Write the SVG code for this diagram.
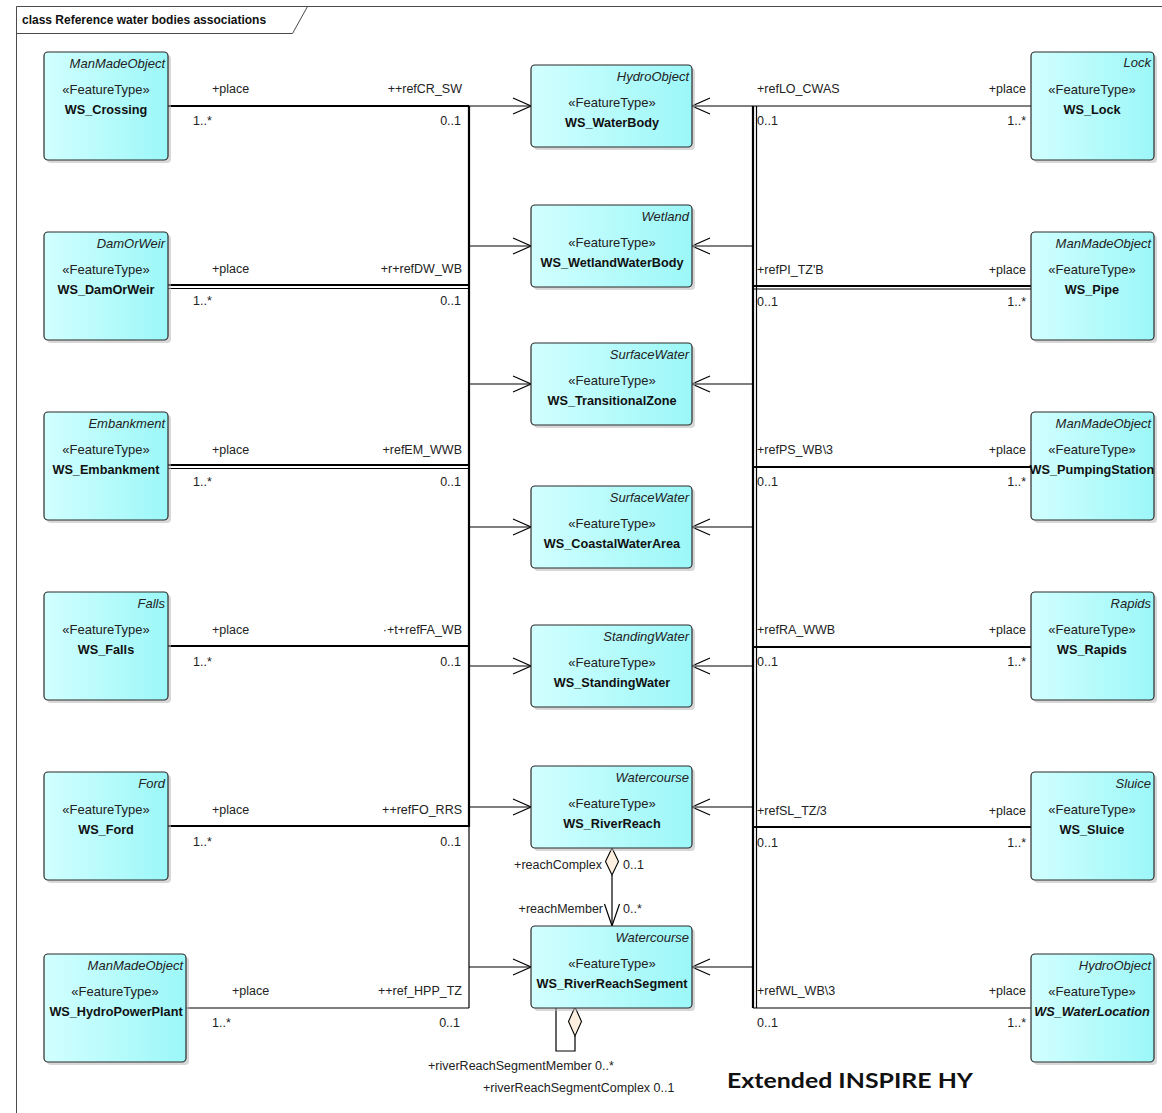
<svg xmlns="http://www.w3.org/2000/svg" width="1162" height="1113" viewBox="0 0 1162 1113">
  <defs>
    <linearGradient id="cyanFill" x1="0" y1="0" x2="1" y2="0">
      <stop offset="0" stop-color="#d2ffff"/>
      <stop offset="1" stop-color="#9cf7f8"/>
    </linearGradient>
    <marker id="openArrow" viewBox="0 0 20 18" refX="19" refY="9" markerWidth="20" markerHeight="18" markerUnits="userSpaceOnUse" orient="auto">
      <path d="M1,1 L19,9 L1,17" fill="none" stroke="#000" stroke-width="1.1"/>
    </marker>
    <style>
      .node rect.box { fill: url(#cyanFill); stroke: #2b2b2b; stroke-width: 1.2; }
      .node rect.shadow { fill: #b8b8b8; opacity: 0.55; }
      .parent { font-family: "Liberation Sans", Arial, sans-serif; font-size: 13px; font-style: italic; fill: #222; text-anchor: end; }
      .stereo { font-family: "Liberation Sans", Arial, sans-serif; font-size: 13px; fill: #222; text-anchor: middle; }
      .name { font-family: "Liberation Sans", Arial, sans-serif; font-size: 12.7px; font-weight: bold; fill: #111; text-anchor: middle; }
      .lbl { font-family: "Liberation Sans", Arial, sans-serif; font-size: 12.5px; fill: #222; }
      .end { text-anchor: end; }
      .wire { fill: none; stroke: #000; stroke-width: 1.2; }
      .heavy { fill: none; stroke: #000; stroke-width: 2.2; }
      .arrow { fill: none; stroke: #000; stroke-width: 1.2; marker-end: url(#openArrow); }
      .frameLine { fill: none; stroke: #4a4a4a; stroke-width: 1; }
    </style>
  </defs>

  <rect x="0" y="0" width="1162" height="1113" fill="#fff"/>

  <!-- diagram frame and its title tab -->
  <g id="frame">
    <path class="frameLine" d="M16.5,1113 L16.5,6.5 L1162,6.5"/>
    <path class="frameLine" d="M16.5,33.5 L292.5,33.5 L307.5,6.5"/>
    <text x="22" y="24" font-family="'Liberation Sans', Arial, sans-serif" font-size="12px" font-weight="bold" fill="#111">class Reference water bodies associations</text>
  </g>

  <!-- connectors -->
  <g id="connectors">
    <!-- left bus -->
    <path class="heavy" d="M469,106 L469,827"/>
    <path class="wire" d="M469,827 L469,1008"/>
    <!-- left feature lines into the bus -->
    <path class="heavy" d="M168,106 L469,106"/>
    <path class="heavy" d="M168,285 L469,285"/>
    <path class="wire" d="M168,288.5 L469,288.5"/>
    <path class="heavy" d="M168,465 L469,465"/>
    <path class="wire" d="M168,468.5 L469,468.5"/>
    <path class="heavy" d="M168,646 L469,646"/>
    <path class="heavy" d="M168,826 L469,826"/>
    <path class="wire" d="M186,1008 L469,1008"/>
    <!-- left bus to water bodies -->
    <path class="arrow" d="M469,106 L531,106"/>
    <path class="arrow" d="M469,246 L531,246"/>
    <path class="arrow" d="M469,384 L531,384"/>
    <path class="arrow" d="M469,527 L531,527"/>
    <path class="arrow" d="M469,666 L531,666"/>
    <path class="arrow" d="M469,807 L531,807"/>
    <path class="arrow" d="M469,967 L531,967"/>

    <!-- right bus (double) -->
    <path class="heavy" d="M753,106 L753,1008"/>
    <path class="wire" d="M756.5,106 L756.5,1008"/>
    <!-- right feature lines into the bus -->
    <path class="wire" d="M753,106 L1031,106"/>
    <path class="heavy" d="M753,286 L1031,286"/>
    <path class="wire" d="M753,289 L1031,289"/>
    <path class="heavy" d="M753,467 L1031,467"/>
    <path class="heavy" d="M753,647 L1031,647"/>
    <path class="heavy" d="M753,827 L1031,827"/>
    <path class="wire" d="M753,1008 L1031,1008"/>
    <!-- right bus to water bodies -->
    <path class="arrow" d="M753,106 L692,106"/>
    <path class="arrow" d="M753,246 L692,246"/>
    <path class="arrow" d="M753,384 L692,384"/>
    <path class="arrow" d="M753,527 L692,527"/>
    <path class="arrow" d="M753,666 L692,666"/>
    <path class="arrow" d="M753,807 L692,807"/>
    <path class="arrow" d="M753,967 L692,967"/>

    <!-- reach complex / reach member aggregation -->
    <path class="wire" d="M612,875 L612,926"/>
    <path class="wire" d="M604.5,904 L612,926 L619.5,904"/>
    <polygon points="612,848 618.5,861.5 612,875 605.5,861.5" fill="#fdf0e0" stroke="#000" stroke-width="1.1"/>

    <!-- river reach segment self aggregation -->
    <path class="wire" d="M556,1007 L556,1051 L575,1051 L575,1036"/>
    <polygon points="575,1007 581.5,1021.5 575,1036 568.5,1021.5" fill="#fdf0e0" stroke="#000" stroke-width="1.1"/>

    <!-- association end labels, left side -->
    <text class="lbl" x="212" y="93">+place</text>
    <text class="lbl" x="193" y="125">1..*</text>
    <text class="lbl end" x="462" y="93">++refCR_SW</text>
    <text class="lbl end" x="461" y="125">0..1</text>

    <text class="lbl" x="212" y="273">+place</text>
    <text class="lbl" x="193" y="305">1..*</text>
    <text class="lbl end" x="462" y="273">+r+refDW_WB</text>
    <text class="lbl end" x="461" y="305">0..1</text>

    <text class="lbl" x="212" y="454">+place</text>
    <text class="lbl" x="193" y="486">1..*</text>
    <text class="lbl end" x="462" y="454">+refEM_WWB</text>
    <text class="lbl end" x="461" y="486">0..1</text>

    <text class="lbl" x="212" y="634">+place</text>
    <text class="lbl" x="193" y="666">1..*</text>
    <text class="lbl end" x="462" y="634">·+t+refFA_WB</text>
    <text class="lbl end" x="461" y="666">0..1</text>

    <text class="lbl" x="212" y="814">+place</text>
    <text class="lbl" x="193" y="846">1..*</text>
    <text class="lbl end" x="462" y="814">++refFO_RRS</text>
    <text class="lbl end" x="461" y="846">0..1</text>

    <text class="lbl" x="232" y="995">+place</text>
    <text class="lbl" x="212" y="1027">1..*</text>
    <text class="lbl end" x="462" y="995">++ref_HPP_TZ</text>
    <text class="lbl end" x="460" y="1027">0..1</text>

    <!-- association end labels, right side -->
    <text class="lbl" x="757" y="93">+refLO_CWAS</text>
    <text class="lbl" x="757" y="125">0..1</text>
    <text class="lbl end" x="1026" y="93">+place</text>
    <text class="lbl end" x="1026" y="125">1..*</text>

    <text class="lbl" x="757" y="274">+refPI_TZ'B</text>
    <text class="lbl" x="757" y="306">0..1</text>
    <text class="lbl end" x="1026" y="274">+place</text>
    <text class="lbl end" x="1026" y="306">1..*</text>

    <text class="lbl" x="757" y="454">+refPS_WB\3</text>
    <text class="lbl" x="757" y="486">0..1</text>
    <text class="lbl end" x="1026" y="454">+place</text>
    <text class="lbl end" x="1026" y="486">1..*</text>

    <text class="lbl" x="757" y="634">+refRA_WWB</text>
    <text class="lbl" x="757" y="666">0..1</text>
    <text class="lbl end" x="1026" y="634">+place</text>
    <text class="lbl end" x="1026" y="666">1..*</text>

    <text class="lbl" x="757" y="815">+refSL_TZ/3</text>
    <text class="lbl" x="757" y="847">0..1</text>
    <text class="lbl end" x="1026" y="815">+place</text>
    <text class="lbl end" x="1026" y="847">1..*</text>

    <text class="lbl" x="757" y="995">+refWL_WB\3</text>
    <text class="lbl" x="757" y="1027">0..1</text>
    <text class="lbl end" x="1026" y="995">+place</text>
    <text class="lbl end" x="1026" y="1027">1..*</text>

    <!-- aggregation role labels -->
    <text class="lbl end" x="602" y="869">+reachComplex</text>
    <text class="lbl" x="623" y="869">0..1</text>
    <text class="lbl end" x="603" y="913">+reachMember</text>
    <text class="lbl" x="623" y="913">0..*</text>
    <text class="lbl" x="428" y="1070">+riverReachSegmentMember 0..*</text>
    <text class="lbl" x="483" y="1092">+riverReachSegmentComplex 0..1</text>
  </g>

  <!-- left column: features placed on water bodies -->
  <g id="WS_Crossing" class="node">
    <rect class="shadow" x="47" y="55" width="124" height="108" rx="4"/>
    <rect class="box" x="44" y="52" width="124" height="108" rx="4"/>
    <text class="parent" x="165" y="68">ManMadeObject</text>
    <text class="stereo" x="106" y="94">«FeatureType»</text>
    <text class="name" x="106" y="114">WS_Crossing</text>
  </g>
  <g id="WS_DamOrWeir" class="node">
    <rect class="shadow" x="47" y="235" width="124" height="108" rx="4"/>
    <rect class="box" x="44" y="232" width="124" height="108" rx="4"/>
    <text class="parent" x="165" y="248">DamOrWeir</text>
    <text class="stereo" x="106" y="274">«FeatureType»</text>
    <text class="name" x="106" y="294">WS_DamOrWeir</text>
  </g>
  <g id="WS_Embankment" class="node">
    <rect class="shadow" x="47" y="415" width="124" height="108" rx="4"/>
    <rect class="box" x="44" y="412" width="124" height="108" rx="4"/>
    <text class="parent" x="165" y="428">Embankment</text>
    <text class="stereo" x="106" y="454">«FeatureType»</text>
    <text class="name" x="106" y="474">WS_Embankment</text>
  </g>
  <g id="WS_Falls" class="node">
    <rect class="shadow" x="47" y="595" width="124" height="108" rx="4"/>
    <rect class="box" x="44" y="592" width="124" height="108" rx="4"/>
    <text class="parent" x="165" y="608">Falls</text>
    <text class="stereo" x="106" y="634">«FeatureType»</text>
    <text class="name" x="106" y="654">WS_Falls</text>
  </g>
  <g id="WS_Ford" class="node">
    <rect class="shadow" x="47" y="775" width="124" height="108" rx="4"/>
    <rect class="box" x="44" y="772" width="124" height="108" rx="4"/>
    <text class="parent" x="165" y="788">Ford</text>
    <text class="stereo" x="106" y="814">«FeatureType»</text>
    <text class="name" x="106" y="834">WS_Ford</text>
  </g>
  <g id="WS_HydroPowerPlant" class="node">
    <rect class="shadow" x="47" y="957" width="142" height="108" rx="4"/>
    <rect class="box" x="44" y="954" width="142" height="108" rx="4"/>
    <text class="parent" x="183" y="970">ManMadeObject</text>
    <text class="stereo" x="115" y="996">«FeatureType»</text>
    <text class="name" x="116" y="1016">WS_HydroPowerPlant</text>
  </g>

  <!-- middle column: water bodies -->
  <g id="WS_WaterBody" class="node">
    <rect class="shadow" x="534" y="68" width="161" height="82" rx="4"/>
    <rect class="box" x="531" y="65" width="161" height="82" rx="4"/>
    <text class="parent" x="689" y="81">HydroObject</text>
    <text class="stereo" x="612" y="107">«FeatureType»</text>
    <text class="name" x="612" y="127">WS_WaterBody</text>
  </g>
  <g id="WS_WetlandWaterBody" class="node">
    <rect class="shadow" x="534" y="208" width="161" height="82" rx="4"/>
    <rect class="box" x="531" y="205" width="161" height="82" rx="4"/>
    <text class="parent" x="689" y="221">Wetland</text>
    <text class="stereo" x="612" y="247">«FeatureType»</text>
    <text class="name" x="612" y="267">WS_WetlandWaterBody</text>
  </g>
  <g id="WS_TransitionalZone" class="node">
    <rect class="shadow" x="534" y="346" width="161" height="82" rx="4"/>
    <rect class="box" x="531" y="343" width="161" height="82" rx="4"/>
    <text class="parent" x="689" y="359">SurfaceWater</text>
    <text class="stereo" x="612" y="385">«FeatureType»</text>
    <text class="name" x="612" y="405">WS_TransitionalZone</text>
  </g>
  <g id="WS_CoastalWaterArea" class="node">
    <rect class="shadow" x="534" y="489" width="161" height="82" rx="4"/>
    <rect class="box" x="531" y="486" width="161" height="82" rx="4"/>
    <text class="parent" x="689" y="502">SurfaceWater</text>
    <text class="stereo" x="612" y="528">«FeatureType»</text>
    <text class="name" x="612" y="548">WS_CoastalWaterArea</text>
  </g>
  <g id="WS_StandingWater" class="node">
    <rect class="shadow" x="534" y="628" width="161" height="82" rx="4"/>
    <rect class="box" x="531" y="625" width="161" height="82" rx="4"/>
    <text class="parent" x="689" y="641">StandingWater</text>
    <text class="stereo" x="612" y="667">«FeatureType»</text>
    <text class="name" x="612" y="687">WS_StandingWater</text>
  </g>
  <g id="WS_RiverReach" class="node">
    <rect class="shadow" x="534" y="769" width="161" height="82" rx="4"/>
    <rect class="box" x="531" y="766" width="161" height="82" rx="4"/>
    <text class="parent" x="689" y="782">Watercourse</text>
    <text class="stereo" x="612" y="808">«FeatureType»</text>
    <text class="name" x="612" y="828">WS_RiverReach</text>
  </g>
  <g id="WS_RiverReachSegment" class="node">
    <rect class="shadow" x="534" y="929" width="161" height="82" rx="4"/>
    <rect class="box" x="531" y="926" width="161" height="82" rx="4"/>
    <text class="parent" x="689" y="942">Watercourse</text>
    <text class="stereo" x="612" y="968">«FeatureType»</text>
    <text class="name" x="612" y="988">WS_RiverReachSegment</text>
  </g>

  <!-- right column: features placed on water bodies -->
  <g id="WS_Lock" class="node">
    <rect class="shadow" x="1034" y="55" width="123" height="108" rx="4"/>
    <rect class="box" x="1031" y="52" width="123" height="108" rx="4"/>
    <text class="parent" x="1151" y="67">Lock</text>
    <text class="stereo" x="1092" y="94">«FeatureType»</text>
    <text class="name" x="1092" y="114">WS_Lock</text>
  </g>
  <g id="WS_Pipe" class="node">
    <rect class="shadow" x="1034" y="235" width="123" height="108" rx="4"/>
    <rect class="box" x="1031" y="232" width="123" height="108" rx="4"/>
    <text class="parent" x="1151" y="248">ManMadeObject</text>
    <text class="stereo" x="1092" y="274">«FeatureType»</text>
    <text class="name" x="1092" y="294">WS_Pipe</text>
  </g>
  <g id="WS_PumpingStation" class="node">
    <rect class="shadow" x="1034" y="415" width="123" height="108" rx="4"/>
    <rect class="box" x="1031" y="412" width="123" height="108" rx="4"/>
    <text class="parent" x="1151" y="428">ManMadeObject</text>
    <text class="stereo" x="1092" y="454">«FeatureType»</text>
    <text class="name" x="1092" y="474">WS_PumpingStation</text>
  </g>
  <g id="WS_Rapids" class="node">
    <rect class="shadow" x="1034" y="595" width="123" height="108" rx="4"/>
    <rect class="box" x="1031" y="592" width="123" height="108" rx="4"/>
    <text class="parent" x="1151" y="608">Rapids</text>
    <text class="stereo" x="1092" y="634">«FeatureType»</text>
    <text class="name" x="1092" y="654">WS_Rapids</text>
  </g>
  <g id="WS_Sluice" class="node">
    <rect class="shadow" x="1034" y="775" width="123" height="108" rx="4"/>
    <rect class="box" x="1031" y="772" width="123" height="108" rx="4"/>
    <text class="parent" x="1151" y="788">Sluice</text>
    <text class="stereo" x="1092" y="814">«FeatureType»</text>
    <text class="name" x="1092" y="834">WS_Sluice</text>
  </g>
  <g id="WS_WaterLocation" class="node">
    <rect class="shadow" x="1034" y="957" width="123" height="108" rx="4"/>
    <rect class="box" x="1031" y="954" width="123" height="108" rx="4"/>
    <text class="parent" x="1151" y="970">HydroObject</text>
    <text class="stereo" x="1092" y="996">«FeatureType»</text>
    <text class="name" x="1092" y="1016" font-style="italic">WS_WaterLocation</text>
  </g>

  <text x="727" y="1088" font-family="Lato, 'Noto Sans', sans-serif" font-size="21px" font-weight="bold" fill="#111" textLength="246" lengthAdjust="spacingAndGlyphs">Extended INSPIRE HY</text>
</svg>
